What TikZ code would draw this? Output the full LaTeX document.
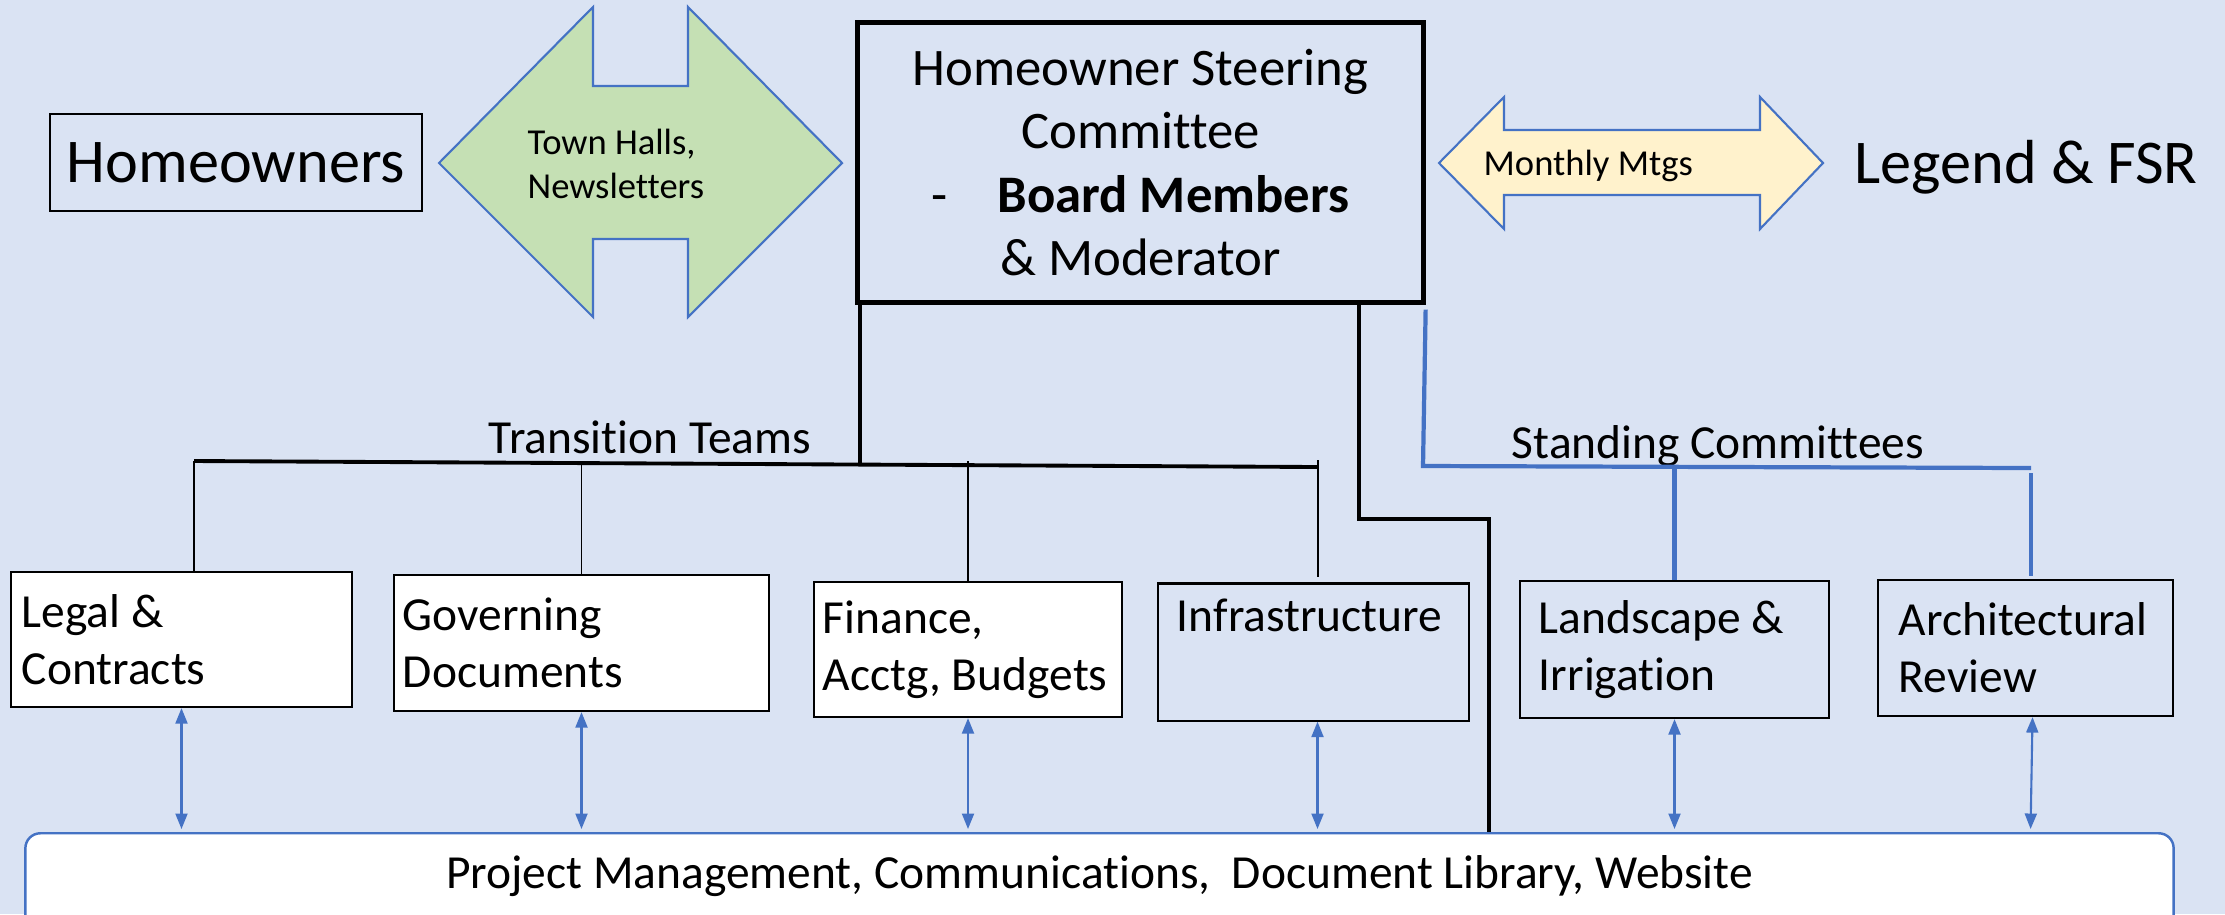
\documentclass[tikz,border=0pt]{standalone}
\usepackage{fontspec}
\setmainfont{Carlito}[Ligatures=NoCommon]
\usepackage{tikz}
\usetikzlibrary{
    positioning,
    arrows.meta
}
\definecolor{paperBlue}{RGB}{218, 227, 243}
\definecolor{lineBlue}{RGB}{68, 114, 196}
\definecolor{hallGreen}{RGB}{197, 224, 180}
\definecolor{mtgYellow}{RGB}{255, 242, 204}

\begin{document}
\begin{tikzpicture}[x=0.01cm, y=-0.01cm, >={Triangle[width=3.4pt, length=4.4pt]},
        big/.style={font=\fontsize{17.7}{21}\selectfont},
        small/.style={font=\fontsize{10.4}{12.6}\selectfont},
        body/.style={font=\fontsize{13.5}{16.2}\selectfont},
        team/.style={draw, line width=0.6pt, body, align=flush left, inner ysep=0pt},
        link/.style={<->, lineBlue, line width=0.6pt, shorten >=0.03cm},
        talk/.style={draw=lineBlue, line width=0.6pt},
        stem/.style={line width=1.1pt},
        twig/.style={line width=0.55pt},
        scline/.style={lineBlue, line width=1.2pt}]
        \useasboundingbox (0,0) rectangle (2225,914);
        \fill[paperBlue] (0,0) rectangle (2225,914);
        \clip (0,0) rectangle (2225,914);

        % Arrows between the groups
        \draw[talk, fill=hallGreen] (439,163) -- (593,7) -- (593,86) -- (688,86) -- (688,7)
            -- (842,163) -- (688,317) -- (688,239) -- (593,239) -- (593,317) -- cycle;
        \draw[talk, fill=mtgYellow] (1439,163) -- (1504,97) -- (1504,130) -- (1760,130) -- (1760,97)
            -- (1823,163) -- (1760,229) -- (1760,195) -- (1504,195) -- (1504,229) -- cycle;

        \node[draw, line width=0.6pt, big, minimum width=3.72cm, minimum height=0.97cm] (owners) at (236,162.5) {Homeowners};
        \node[small, align=flush left, anchor=west, inner sep=0pt] (halls) at (527,164) {Town Halls,\\Newsletters};
        \node[draw, line width=1.4pt, font=\fontsize{15}{18}\selectfont, align=flush center,
            minimum width=5.65cm, minimum height=2.79cm] (steer) at (1140.5,162.5)
            {Homeowner Steering\\Committee\\-\hspace{0.5cm}\textbf{Board Members}\\\& Moderator};
        \node[small, anchor=base west, inner sep=0pt] (mtgs) at (1483,175) {Monthly Mtgs};
        \node[big, anchor=base west, inner sep=0pt] (fsr) at (1854,183) {Legend \& FSR};

        % Teams and committees
        \node[team, fill=white, inner xsep=0.11cm, text width=3.19cm, minimum height=1.35cm] (legal) at (181.5,639.5) {Legal \&\\Contracts};
        \node[team, fill=white, inner xsep=0.09cm, text width=3.57cm, minimum height=1.36cm] (gov) at (581.5,643) {Governing\\Documents};
        \node[team, fill=white, inner xsep=0.09cm, text width=2.90cm, minimum height=1.35cm] (fin) at (968,649.5) {Finance,\\Acctg, Budgets};
        \node[team, inner xsep=0.19cm, text width=2.73cm, minimum height=1.37cm] (infra) at (1313.5,652) {Infrastructure\\\strut};
        \node[team, inner xsep=0.19cm, text width=2.71cm, minimum height=1.37cm] (land) at (1674.5,649.5) {Landscape \&\\Irrigation};
        \node[team, inner xsep=0.21cm, text width=2.53cm, minimum height=1.36cm] (arch) at (2025.5,648) {Architectural\\Review};

        \node[draw=lineBlue, fill=white, line width=0.7pt, rounded corners=0.15cm, body, anchor=north,
            minimum width=21.47cm, text height=0.55cm, text depth=0.6cm, inner sep=0pt] (pm) at (1099.5,832)
            {Project Management, Communications,\ \ Document Library, Website};

        \node[body, anchor=base] (ttlabel) at (650,453) {Transition Teams};
        \node[body, anchor=base] (sclabel) at (1718,458) {Standing Committees};

        % Transition teams
        \coordinate (tt-hub) at (860,463);
        \coordinate (tt-l) at (194,461);
        \coordinate (tt-r) at (1318,467);
        \draw[stem] (tt-hub |- steer.south) -- (tt-hub);
        \draw[stem] (tt-l) -- (tt-r);
        \draw[twig] (tt-l) -- (tt-l |- legal.north);
        \draw[twig] (gov.north |- tt-l) -- (gov.north);
        \draw[twig] (fin.north |- tt-l) -- (fin.north);
        \draw[twig, shorten >=0.05cm] ([yshift=0.07cm]tt-r) -- (tt-r |- infra.north);

        % Line down to the library
        \coordinate (ft-drop) at (1359,519);
        \coordinate (ft-bend) at (1489,519);
        \draw[stem] (ft-drop |- steer.south) -- (ft-drop) -- (ft-bend) -- (ft-bend |- pm.north);

        % Standing committees
        \coordinate (sc-l) at (1423,466);
        \coordinate (sc-r) at (2031,468);
        \draw[scline] ([yshift=-0.05cm]steer.south east) -- (sc-l) -- (sc-r);
        \draw[scline] (land.north |- sc-l) -- (land.north);
        \draw[scline, shorten >=0.03cm] ([yshift=-0.05cm]sc-r) -- (sc-r |- arch.north);

        \draw[link] (legal.south) -- (legal.south |- pm.north);
        \draw[link] (gov.south) -- (gov.south |- pm.north);
        \draw[link] (fin.south) -- (fin.south |- pm.north);
        \draw[link] ([xshift=0.04cm]infra.south) -- ([xshift=0.04cm]infra.south |- pm.north);
        \draw[link] (land.south) -- (land.south |- pm.north);
        \draw[link] ([xshift=0.07cm]arch.south) -- ([xshift=0.05cm]arch.south |- pm.north);
    \end{tikzpicture}
\end{document}
